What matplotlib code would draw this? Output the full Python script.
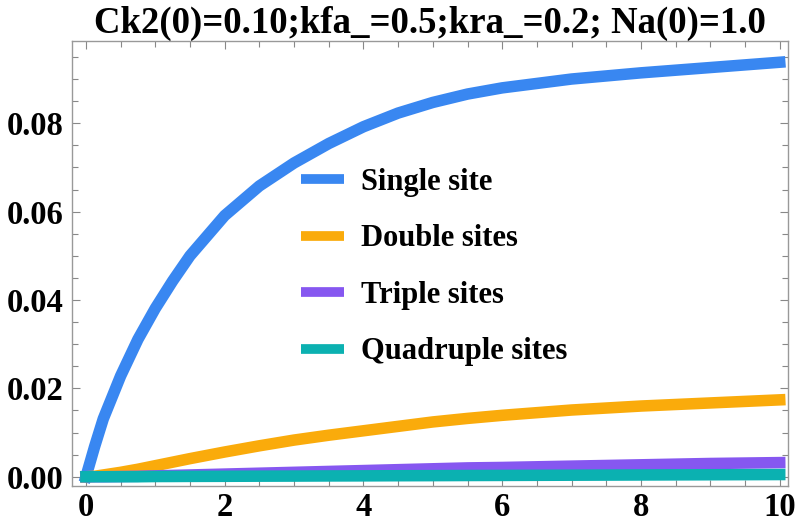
import matplotlib
matplotlib.use("Agg")
import matplotlib.pyplot as plt
from matplotlib.ticker import MultipleLocator

plt.rcParams['font.family'] = ['Liberation Serif', 'DejaVu Serif']
plt.rcParams['font.weight'] = 'bold'

# time axis and the four site populations
t = [0, 0.125, 0.25, 0.5, 0.75, 1.0, 1.25, 1.5, 2.0, 2.5, 3.0, 3.5, 4.0,
     4.5, 5.0, 5.5, 6.0, 7.0, 8.0, 9.0, 10.0]
single = [0, 0.0068, 0.0131, 0.0228, 0.0311, 0.0381, 0.0443, 0.0500,
          0.0591, 0.0658, 0.0710, 0.0754, 0.0792, 0.0823, 0.0847, 0.0866,
          0.0880, 0.0900, 0.0914, 0.0926, 0.0938]
double = [0, 0.0001, 0.0004, 0.0010, 0.0017, 0.0025, 0.0033, 0.0041,
          0.0056, 0.0070, 0.0083, 0.0094, 0.0104, 0.0114, 0.0124, 0.0132,
          0.0139, 0.0151, 0.0160, 0.0167, 0.0174]
triple = [0, 0, 0, 0.00005, 0.0001, 0.0002, 0.0003, 0.0004, 0.0006,
          0.0008, 0.0010, 0.0012, 0.0014, 0.0016, 0.0018, 0.0020, 0.0021,
          0.0024, 0.0027, 0.0030, 0.0032]
quad = [0, 0, 0, 0, 0, 0.00005, 0.00006, 0.00008, 0.0001, 0.00013,
        0.00015, 0.00018, 0.0002, 0.00023, 0.00025, 0.00028, 0.0003,
        0.00035, 0.0004, 0.00045, 0.0005]

labels = ["Single site", "Double sites", "Triple sites", "Quadruple sites"]
colors = ["#3987F1", "#FAAB0B", "#8657F0", "#0BB1B1"]

fig = plt.figure(figsize=(7.96, 5.26), dpi=100)
ax = fig.add_axes([0.0905, 0.076, 0.8995, 0.846])

for ys, lab, c in zip([single, double, triple, quad], labels, colors):
    ax.plot(t, ys, color=c, lw=8.3, solid_capstyle='projecting',
            solid_joinstyle='round', label=lab)

ax.set_xlim(-0.2, 10.12)
ax.set_ylim(-0.0021, 0.0986)

ax.xaxis.set_major_locator(MultipleLocator(2))
ax.xaxis.set_minor_locator(MultipleLocator(0.5))
ax.yaxis.set_major_locator(MultipleLocator(0.02))
ax.yaxis.set_minor_locator(MultipleLocator(0.005))
ax.yaxis.set_major_formatter(lambda v, p: f"{v:.2f}")

for s in ax.spines.values():
    s.set_color('#999999')
    s.set_linewidth(1.0)
ax.tick_params(which='both', direction='in', top=True, right=True,
               color='#888888', width=0.8, labelsize=23.5)
ax.tick_params(which='major', length=6)
ax.tick_params(which='minor', length=4)
ax.tick_params(axis='x', pad=4)
ax.tick_params(axis='y', pad=6)

ax.set_title("Ck2(0)=0.10;kfa_=0.5;kra_=0.2; Na(0)=1.0", fontsize=26.5,
             fontweight='bold', pad=5)

leg = ax.legend(loc='upper left', bbox_to_anchor=(0.32, 0.715), frameon=False,
                fontsize=22, handlelength=1.4, handletextpad=0.55,
                labelspacing=0.9, borderpad=0, borderaxespad=0)
for h in leg.get_lines():
    h.set_linewidth(7)
    h.set_solid_capstyle('butt')

fig.savefig("out.png", dpi=100)
